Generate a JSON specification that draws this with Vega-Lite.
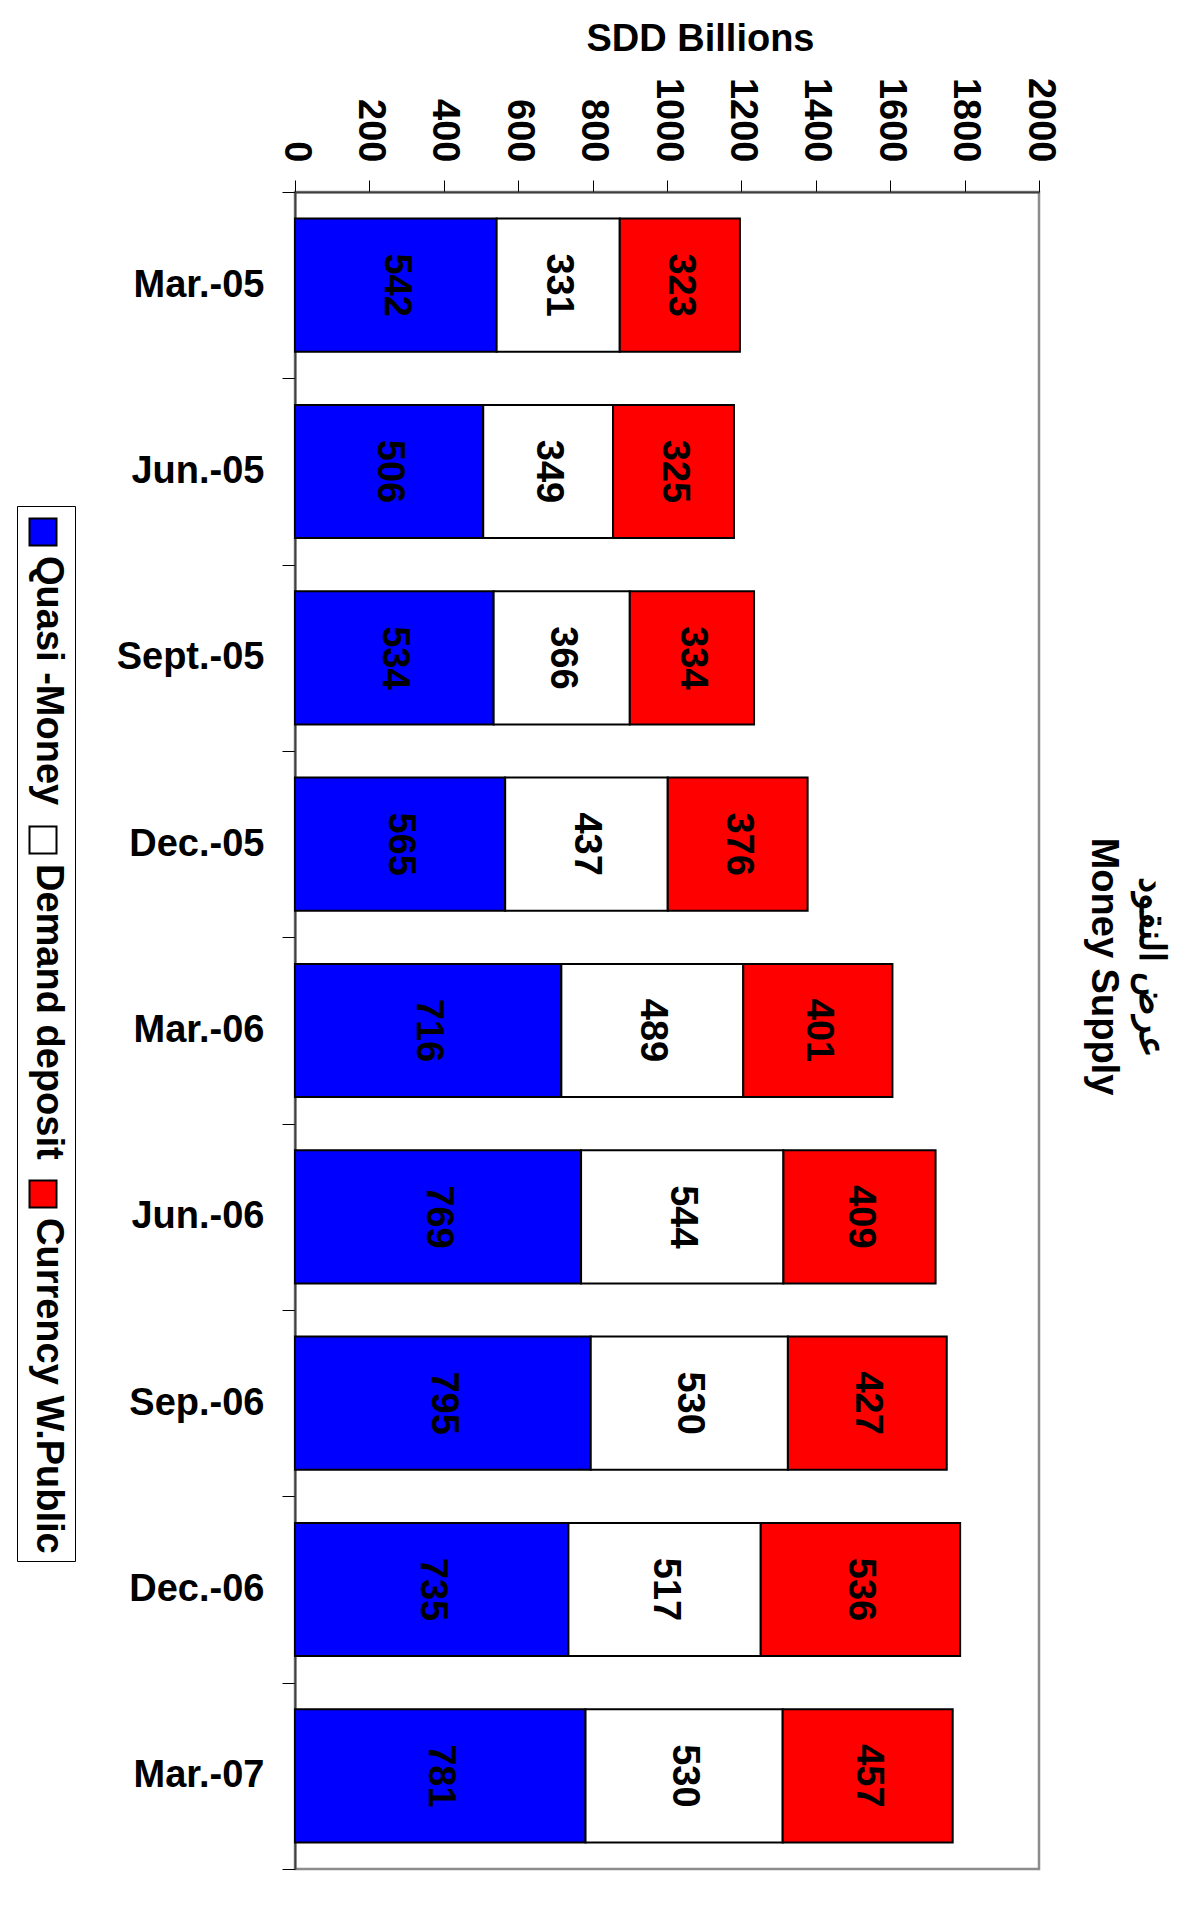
{
  "$schema": "https://vega.github.io/schema/vega-lite/v6.json",
  "width": 744,
  "height": 1677,
  "autosize": {"type": "none"},
  "padding": {"left": 295, "top": 192, "right": 156, "bottom": 41},
  "background": "white",
  "config": {
    "font": "Liberation Sans",
    "view": {"stroke": "#8c8c8c", "strokeWidth": 2.5}
  },
  "title": {
    "text": "عرض النقود",
    "subtitle": "Money Supply",
    "orient": "right",
    "anchor": "middle",
    "font": "Liberation Sans",
    "fontSize": 36,
    "fontWeight": "bold",
    "color": "black",
    "subtitleFont": "Liberation Sans",
    "subtitleFontSize": 38,
    "subtitleFontWeight": "bold",
    "subtitleColor": "black",
    "subtitlePadding": 10,
    "offset": 25,
    "dx": -64
  },
  "data": {
    "values": [
      {"period": "Mar.-05", "series": "Quasi -Money", "value": 542},
      {"period": "Mar.-05", "series": "Demand deposit", "value": 331},
      {"period": "Mar.-05", "series": "Currency W.Public", "value": 323},
      {"period": "Jun.-05", "series": "Quasi -Money", "value": 506},
      {"period": "Jun.-05", "series": "Demand deposit", "value": 349},
      {"period": "Jun.-05", "series": "Currency W.Public", "value": 325},
      {"period": "Sept.-05", "series": "Quasi -Money", "value": 534},
      {"period": "Sept.-05", "series": "Demand deposit", "value": 366},
      {"period": "Sept.-05", "series": "Currency W.Public", "value": 334},
      {"period": "Dec.-05", "series": "Quasi -Money", "value": 565},
      {"period": "Dec.-05", "series": "Demand deposit", "value": 437},
      {"period": "Dec.-05", "series": "Currency W.Public", "value": 376},
      {"period": "Mar.-06", "series": "Quasi -Money", "value": 716},
      {"period": "Mar.-06", "series": "Demand deposit", "value": 489},
      {"period": "Mar.-06", "series": "Currency W.Public", "value": 401},
      {"period": "Jun.-06", "series": "Quasi -Money", "value": 769},
      {"period": "Jun.-06", "series": "Demand deposit", "value": 544},
      {"period": "Jun.-06", "series": "Currency W.Public", "value": 409},
      {"period": "Sep.-06", "series": "Quasi -Money", "value": 795},
      {"period": "Sep.-06", "series": "Demand deposit", "value": 530},
      {"period": "Sep.-06", "series": "Currency W.Public", "value": 427},
      {"period": "Dec.-06", "series": "Quasi -Money", "value": 735},
      {"period": "Dec.-06", "series": "Demand deposit", "value": 517},
      {"period": "Dec.-06", "series": "Currency W.Public", "value": 536},
      {"period": "Mar.-07", "series": "Quasi -Money", "value": 781},
      {"period": "Mar.-07", "series": "Demand deposit", "value": 530},
      {"period": "Mar.-07", "series": "Currency W.Public", "value": 457}
    ]
  },
  "transform": [
    {"stack": "value", "groupby": ["period"], "sort": [{"field": "series", "order": "descending"}], "as": ["v0", "v1"]}
  ],
  "layer": [
    {
      "mark": {"type": "bar", "stroke": "black", "strokeWidth": 2, "height": {"band": 0.715}},
      "encoding": {
        "y": {
          "field": "period", "type": "nominal", "sort": null,
          "scale": {"paddingInner": 0, "paddingOuter": 0},
          "axis": {
            "title": null,
            "labelAngle": 0,
            "labelAlign": "right",
            "labelFont": "Liberation Sans",
            "labelFontSize": 38,
            "labelFontWeight": "bold",
            "labelColor": "black",
            "labelPadding": 18,
            "labelLimit": 0,
            "tickSize": 13,
            "tickBand": "extent",
            "tickColor": "black",
            "tickWidth": 1,
            "domainColor": "#404040",
            "domainWidth": 2
          }
        },
        "x": {
          "field": "v0", "type": "quantitative",
          "scale": {"domain": [0, 2000], "nice": false},
          "axis": {
            "orient": "top",
            "values": [0, 200, 400, 600, 800, 1000, 1200, 1400, 1600, 1800, 2000],
            "format": "d",
            "grid": false,
            "labelAngle": 90,
            "labelAlign": "right",
            "labelBaseline": "middle",
            "labelFont": "Liberation Sans",
            "labelFontSize": 38,
            "labelFontWeight": "bold",
            "labelColor": "black",
            "labelPadding": 18,
            "labelLimit": 0,
            "labelFlush": false,
            "labelOverlap": false,
            "tickSize": 12,
            "tickColor": "black",
            "tickWidth": 1,
            "domainColor": "#404040",
            "domainWidth": 2,
            "title": "SDD Billions",
            "titleFont": "Liberation Sans",
            "titleFontSize": 38,
            "titleFontWeight": "bold",
            "titleColor": "black",
            "titleX": 405,
            "titleY": -142,
            "titleAlign": "center",
            "titleBaseline": "alphabetic",
            "titleAngle": 0
          }
        },
        "x2": {"field": "v1"},
        "fill": {
          "field": "series", "type": "nominal",
          "scale": {"domain": ["Quasi -Money", "Demand deposit", "Currency W.Public"], "range": ["#0000FF", "#FFFFFF", "#FF0000"]},
          "legend": {
            "title": null,
            "orient": "none",
            "legendX": -278,
            "legendY": 314,
            "direction": "vertical",
            "symbolType": "square",
            "symbolSize": 729,
            "symbolStrokeColor": "black",
            "symbolStrokeWidth": 2,
            "symbolOpacity": 1,
            "labelFont": "Liberation Sans",
            "labelFontSize": 38,
            "labelFontWeight": "bold",
            "labelColor": "black",
            "labelLimit": 0,
            "labelOffset": -14,
            "rowPadding": 15,
            "padding": 7,
            "strokeColor": "black",
            "fillColor": "white",
            "encoding": {
              "labels": {"angle": {"value": 90}, "dx": {"value": 24}, "fontWeight": {"value": "bold"}}
            }
          }
        }
      }
    },
    {
      "transform": [
        {"fold": ["v0", "v1"], "as": ["edge", "pos"]},
        {"aggregate": [{"op": "mean", "field": "pos", "as": "mid"}], "groupby": ["period", "series", "value"]}
      ],
      "mark": {"type": "text", "angle": 90, "align": "center", "baseline": "middle", "font": "Liberation Sans", "fontSize": 38, "fontWeight": "bold", "color": "black"},
      "encoding": {
        "y": {"field": "period", "type": "nominal", "sort": null},
        "x": {"field": "mid", "type": "quantitative"},
        "text": {"field": "value", "type": "quantitative"}
      }
    }
  ]
}
